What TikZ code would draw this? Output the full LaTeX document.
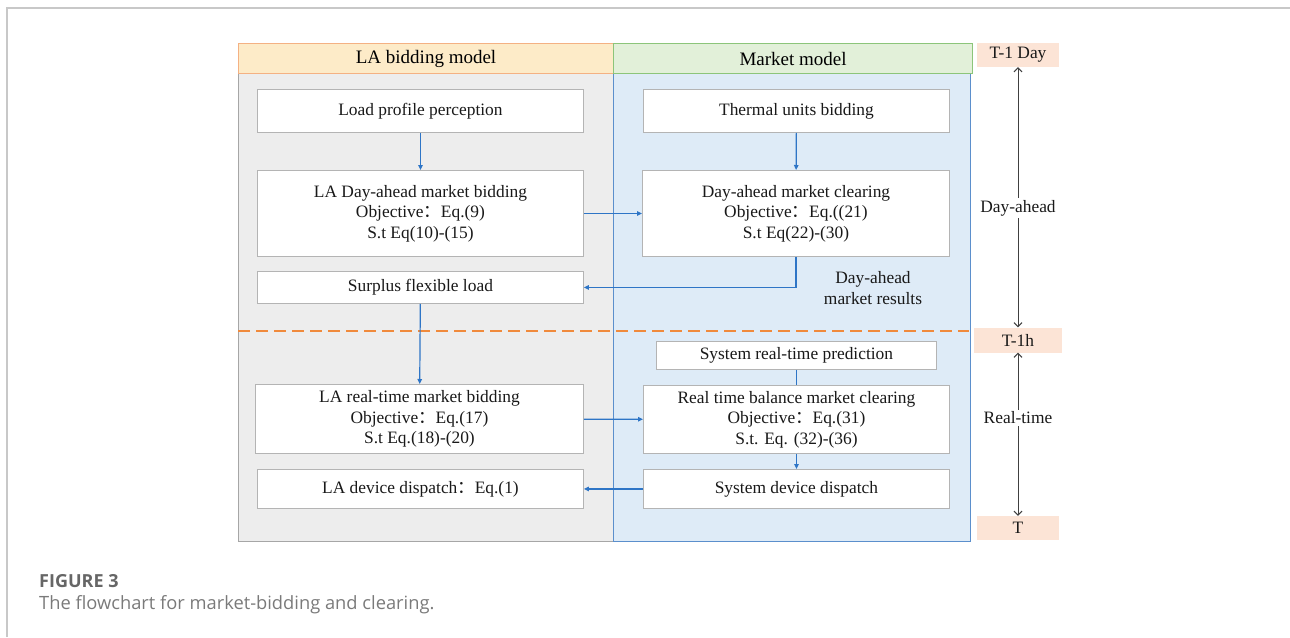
\documentclass[tikz,border=0pt]{standalone}
\usepackage{fontspec}
\setmainfont{Liberation Serif}
\setsansfont{Open Sans}
\newfontfamily\cjk{Noto Sans CJK SC}
\newcommand{\fwc}{{\cjk ：}}
\usetikzlibrary{arrows.meta}
\definecolor{boxgray}{HTML}{B4B4B4}
\definecolor{leftfill}{HTML}{EDEDED}
\definecolor{leftborder}{HTML}{A6A6A6}
\definecolor{rightfill}{HTML}{DEEBF7}
\definecolor{rightborder}{HTML}{5B8FCC}
\definecolor{lhfill}{HTML}{FDEBC8}
\definecolor{lhborder}{HTML}{F4B183}
\definecolor{rhfill}{HTML}{E2F0D9}
\definecolor{rhborder}{HTML}{8CC57A}
\definecolor{arrblue}{HTML}{2E75C6}
\definecolor{dashorange}{HTML}{F08A3C}
\definecolor{tfill}{HTML}{FCE4D6}
\definecolor{framegray}{HTML}{C8C8C8}
\definecolor{capgray}{HTML}{7A7A7A}
\definecolor{figgray}{HTML}{666666}
\definecolor{tline}{HTML}{404040}
\tikzset{
  x=1pt, y=-1pt,
  txt/.style={font=\fontsize{17.4}{20.5}\selectfont, align=center, text=black!90},
  box/.style={txt, draw=boxgray, fill=white, line width=0.9pt, inner sep=0pt, anchor=north west},
  panel/.style={inner sep=0pt, anchor=north west},
  hdr/.style={panel, font=\fontsize{19}{22}\selectfont, line width=1.1pt},
  flow/.style={draw=arrblue, line width=1.2pt, -{Triangle[length=5pt,width=4.5pt]}},
  flowplain/.style={draw=arrblue, line width=1.2pt},
  tbox/.style={txt, fill=tfill, inner sep=0pt},
  tarrow/.style={draw=tline, line width=1pt, -{Straight Barb[length=4pt,width=8pt]}},
}
\begin{document}
\begin{tikzpicture}
\useasboundingbox (0,0) rectangle (1290,637);
% outer frame
\draw[framegray, line width=2pt] (7,637) -- (7,8) -- (1290,8);
% panels
\node[panel, draw=leftborder, fill=leftfill, line width=1pt, minimum width=375pt, minimum height=468pt] (lbody) at (238,73) {};
\node[panel, draw=rightborder, fill=rightfill, line width=1.2pt, minimum width=357pt, minimum height=468pt] (rbody) at (613,73) {};
\node[hdr, draw=lhborder, fill=lhfill, minimum width=375pt, minimum height=30pt] (lhead) at (238,43) {LA bidding model};
\node[hdr, draw=rhborder, fill=rhfill, minimum width=359pt, minimum height=30pt] (rhead) at (613,43) {Market model};
% dashed separator
\coordinate (dl) at (238,331);
\coordinate (dr) at (969,331);
\draw[dashorange, line width=1.2pt, dash pattern=on 12pt off 6pt] (dl) -- (dr);
% left boxes
\node[box, minimum width=326pt, minimum height=43pt] (load) at (257,89) {Load profile perception};
\node[box, minimum width=326pt, minimum height=86pt] (lada) at (257,170) {LA Day-ahead market bidding\\Objective\fwc Eq.(9)\\S.t Eq(10)-(15)};
\node[box, minimum width=326pt, minimum height=32pt] (surplus) at (257,271) {Surplus flexible load};
\node[box, minimum width=328pt, minimum height=69pt] (lart) at (255,384) {LA real-time market bidding\\Objective\fwc Eq.(17)\\S.t Eq.(18)-(20)};
\node[box, minimum width=326pt, minimum height=39pt] (ladev) at (257,469) {LA device dispatch\fwc Eq.(1)};
% right boxes
\node[box, minimum width=306pt, minimum height=43pt] (thermal) at (643,89) {Thermal units bidding};
\node[box, minimum width=307pt, minimum height=86pt] (dac) at (642,170) {Day-ahead market clearing\\Objective\fwc Eq.((21)\\S.t Eq(22)-(30)};
\node[box, minimum width=280pt, minimum height=28pt] (pred) at (656,341) {System real-time prediction};
\node[box, minimum width=306pt, minimum height=68pt] (rtb) at (643,385) {Real time balance market clearing\\Objective\fwc Eq.(31)\\S.t. Eq. (32)-(36)};
\node[box, minimum width=306pt, minimum height=39pt] (sdev) at (643,469) {System device dispatch};
\node[txt] (dares) at (873,288) {Day-ahead\\market results};
% flows
\draw[flow] (load) -- (lada);
\draw[flow] (lada) -- (dac);
\draw[flow] (thermal) -- (dac);
\draw[flow] (dac.south) |- (surplus.east);
\draw[flow] (surplus) -- (lart);
\draw[flow] (lart) -- (rtb);
\draw[flowplain] (pred) -- (rtb);
\draw[flow] (rtb) -- (sdev);
\draw[flow] (sdev) -- (ladev);
% timeline
\node[tbox, minimum width=82pt, minimum height=24pt] (t1d) at (1018,55) {T-1 Day};
\node[tbox, minimum width=88pt, minimum height=25pt] (t1h) at (1018,340) {T-1h};
\node[tbox, minimum width=82pt, minimum height=24pt] (tt) at (1018,528) {T};
\node[txt, inner sep=2pt] (dalab) at (1018,208) {Day-ahead};
\node[txt, inner sep=2pt] (rtlab) at (1018,418) {Real-time};
\draw[tarrow] (dalab.north) -- (t1d.south);
\draw[tarrow] (dalab.south) -- (t1h.north);
\draw[tarrow] (rtlab.north) -- (t1h.south);
\draw[tarrow] (rtlab.south) -- (tt.north);
% caption
\node[anchor=base west, inner sep=0pt, font=\sffamily\bfseries\fontsize{18}{21}\selectfont, text=figgray] (fig) at (39,587) {FIGURE 3};
\node[anchor=base west, inner sep=0pt, font=\sffamily\fontsize{18.3}{21}\selectfont, text=capgray] (cap) at (39,609) {The flowchart for market-bidding and clearing.};
\end{tikzpicture}
\end{document}
